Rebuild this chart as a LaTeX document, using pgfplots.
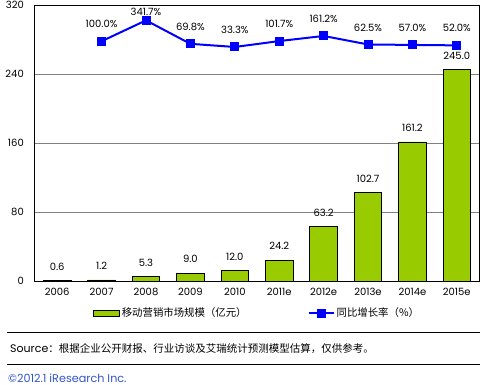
\documentclass[border=0pt]{standalone}
\usepackage{pgfplots}
\pgfplotsset{compat=1.18}
\usepackage{pgfplotstable}
\usepackage{fontspec}
\setmainfont{Poppins}
\newfontfamily\cjk{Noto Sans CJK SC}
\definecolor{bargreen}{HTML}{99CC00}
\definecolor{lineblue}{HTML}{0000FF}
\definecolor{copyblue}{HTML}{3355CC}
\definecolor{gridgray}{HTML}{808080}
\newcommand{\fs}{\fontsize{10bp}{12bp}\selectfont}
\newcommand{\fcjk}{\cjk\fontsize{10.4bp}{12bp}\selectfont}
\pgfplotsset{
  mylineleg/.style={legend image code/.code={%
    \draw[##1, mark=none] (0bp,0bp) -- (25bp,0bp);%
    \draw[##1] plot coordinates {(12.5bp,0bp)};}},
  mybarleg/.style={legend image code/.code={%
    \draw[black, fill=bargreen, line width=0.8bp] (0bp,-3bp) rectangle (26bp,3bp);}},
}

\pgfplotstableread{
x v lab
0 0.6 0.6
1 1.2 1.2
2 5.3 5.3
3 9.0 9.0
4 12.0 12.0
5 24.2 24.2
6 63.2 63.2
7 102.7 102.7
8 161.2 161.2
9 245.0 245.0
}\bars

\pgfplotstableread{
x g lab off
1 100.0 100.0 17
2 341.7 341.7 9
3 69.8 69.8 17
4 33.3 33.3 17
5 101.7 101.7 17
6 161.2 161.2 17
7 62.5 62.5 17
8 57.0 57.0 17
9 52.0 52.0 17
}\growth

\begin{document}
\begin{tikzpicture}
\useasboundingbox (-35bp,-104bp) rectangle (445bp,281bp);
\begin{axis}[
  scale only axis, width=444bp, height=276bp,
  xmin=-0.5, xmax=9.5, ymin=0, ymax=320,
  xtick={0,...,9},
  xticklabels={2006,2007,2008,2009,2010,2011e,2012e,2013e,2014e,2015e},
  ytick={0,80,160,240,320},
  major tick length=0pt,
  ymajorgrids, grid style={gridgray, line width=0.8bp},
  axis line style={black, line width=1bp},
  /pgf/number format/assume math mode=true,
  tick label style={font=\fs},
  xticklabel style={anchor=center, inner sep=0pt, yshift=-11bp},
  yticklabel style={anchor=east, inner sep=0pt, xshift=-11bp},
  clip=false,
]
\addplot[ybar, bar width=27.5bp, fill=bargreen, draw=black, line width=0.8bp,
  point meta=explicit symbolic, nodes near coords,
  every node near coord/.append style={font=\fs, anchor=center, yshift=14bp, inner sep=0pt}]
  table[x=x, y=v, meta=lab] {\bars};
\end{axis}
\begin{axis}[
  scale only axis, width=444bp, height=276bp,
  xmin=-0.5, xmax=9.5, ymin=-2680, ymax=520,
  hide axis, clip=false,
  legend columns=2,
  legend style={at={(0.5,-0.116)}, anchor=center, draw=none, fill=none,
    font=\fcjk, /tikz/every even column/.append style={column sep=59bp}},
]
\addlegendimage{mybarleg}
\addlegendentry{移动营销市场规模（亿元）}
\addplot[lineblue, line width=2bp, mark=square*, mark size=3.5bp,
  mark options={fill=lineblue, draw=lineblue},
  point meta=explicit symbolic,
  visualization depends on={\thisrow{off}\as\myoff},
  nodes near coords={\pgfplotspointmeta\%},
  every node near coord/.append style={font=\fs, text=black, anchor=center, yshift=\myoff bp, inner sep=0pt},
  mylineleg]
  table[x=x, y=g, meta=lab] {\growth};
\addlegendentry{同比增长率（\%）}
\end{axis}
\draw[black, line width=1bp] (-28bp,-51bp) -- (445bp,-51bp);
\draw[black, line width=1bp] (-28bp,-83bp) -- (445bp,-83bp);
\node[anchor=west, inner sep=0pt] at (-25bp,-68bp) {\fontsize{11bp}{13bp}\selectfont Source{\cjk\fontsize{10.5bp}{13bp}\selectfont：根据企业公开财报、行业访谈及艾瑞统计预测模型估算，仅供参考。}};
\node[anchor=west, inner sep=0pt, text=copyblue] at (-27bp,-97bp) {\fontsize{11.2bp}{13bp}\selectfont ©2012.1 iResearch Inc.};
\end{tikzpicture}
\end{document}
